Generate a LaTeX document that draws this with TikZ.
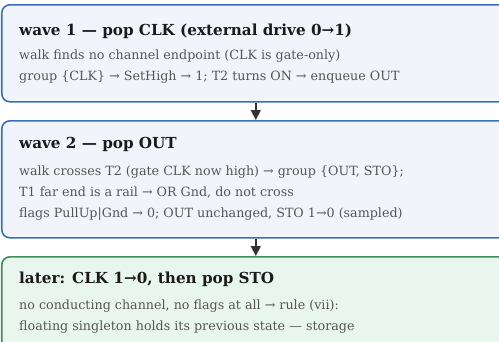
\documentclass[tikz,border=0pt]{standalone}
\usepackage{fontspec}
\setmainfont{DejaVu Serif}
\usetikzlibrary{arrows.meta}
\definecolor{stepblue}{HTML}{3B6FB6}
\definecolor{stepbluefill}{HTML}{F1F5FB}
\definecolor{stepgreen}{HTML}{3E8C5A}
\definecolor{stepgreenfill}{HTML}{E9F6EE}
\definecolor{bodygray}{HTML}{555555}
\definecolor{titleblack}{HTML}{1A1A1A}
\definecolor{flowgray}{HTML}{333333}
\begin{document}
\begin{tikzpicture}[
  x=1pt, y=-1pt,
  wavebox/.style={rectangle, rounded corners=8pt, line width=1.6pt, draw=stepblue, fill=stepbluefill,
    anchor=north west, minimum width=508pt, inner sep=0},
  laterbox/.style={wavebox, draw=stepgreen, fill=stepgreenfill},
  boxtitle/.style={anchor=base west, inner sep=0, text=titleblack, font=\fontsize{15.2}{17}\selectfont\bfseries},
  boxbody/.style={anchor=base west, inner sep=0, text=bodygray, align=left, font=\fontsize{12.7}{21}\selectfont},
  flow/.style={draw=flowgray, line width=1.4pt, -{Triangle[width=10pt,length=10pt]}}
]
\useasboundingbox (0,0) rectangle (499,341);
\clip (0,0) rectangle (499,341);
% wave 1
\node[wavebox, minimum height=97pt] (wave1) at (1,4) {};
\node[boxtitle] (wave1title) at (19,35) {wave 1 — pop CLK (external drive 0→1)};
\node[boxbody] (wave1body) at (19,80) {walk finds no channel endpoint (CLK is gate-only)\\
  group \{CLK\} → SetHigh → 1; T2 turns ON → enqueue OUT};
% wave 2
\node[wavebox, minimum height=117pt] (wave2) at (1,120) {};
\node[boxtitle] (wave2title) at (19,148) {wave 2 — pop OUT};
\node[boxbody] (wave2body) at (19,217) {walk crosses T2 (gate CLK now high) → group \{OUT, STO\};\\
  T1 far end is a rail → OR Gnd, do not cross\\
  flags PullUp|Gnd → 0; OUT unchanged, STO 1→0 (sampled)};
% later
\node[laterbox, minimum height=100pt] (later) at (1,256) {};
\node[boxtitle] (latertitle) at (19,283) {later: CLK 1→0, then pop STO};
\node[boxbody] (laterbody) at (19,330) {no conducting channel, no flags at all → rule (vii):\\
  floating singleton holds its previous state — storage};
% arrows
\draw[flow] (wave1.south) -- (wave2.north);
\draw[flow] (wave2.south) -- (later.north);
\end{tikzpicture}
\end{document}
